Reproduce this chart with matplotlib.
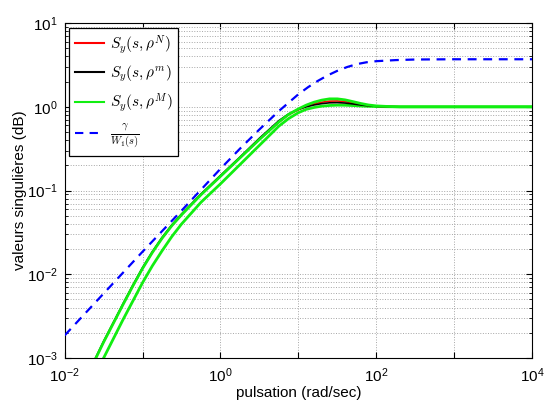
import matplotlib
matplotlib.use("Agg")
import matplotlib.pyplot as plt
import numpy as np

plt.rcParams['font.family'] = ['Liberation Sans', 'DejaVu Sans']
plt.rcParams['mathtext.fontset'] = 'cm'

# log10 of pulsation (rad/sec) at which values were read
logw = [-2.0, -1.75, -1.5, -1.25, -1.125, -1.0, -0.875, -0.75, -0.625, -0.5, -0.25,
        0.0, 0.25, 0.5, 0.75, 0.875, 1.0, 1.1, 1.2, 1.3, 1.4, 1.5, 1.6, 1.7, 1.8,
        1.9, 2.0, 2.15, 2.3, 3.0, 4.0]

# log10 of singular values
green_a = [-3.78, -3.29, -2.81, -2.36, -2.14, -1.93, -1.74, -1.57, -1.42, -1.29, -1.05,
           -0.83, -0.61, -0.39, -0.18, -0.09, -0.025, 0.02, 0.055, 0.08, 0.095, 0.095,
           0.083, 0.062, 0.04, 0.022, 0.011, 0.004, 0.0, 0.0, 0.0]
green_b = [-3.98, -3.49, -3.0, -2.54, -2.32, -2.10, -1.90, -1.72, -1.55, -1.40, -1.14,
           -0.92, -0.69, -0.46, -0.23, -0.14, -0.07, -0.03, -0.008, 0.008, 0.016, 0.02,
           0.019, 0.015, 0.01, 0.006, 0.003, 0.001, 0.0, 0.0, 0.0]
red = [-3.78, -3.29, -2.81, -2.36, -2.14, -1.93, -1.74, -1.57, -1.42, -1.29, -1.05,
       -0.83, -0.61, -0.39, -0.185, -0.095, -0.035, 0.005, 0.035, 0.055, 0.068, 0.07,
       0.062, 0.045, 0.028, 0.015, 0.007, 0.002, 0.0, 0.0, 0.0]
black = [-3.77, -3.28, -2.80, -2.35, -2.13, -1.92, -1.73, -1.56, -1.41, -1.28, -1.04,
         -0.82, -0.60, -0.375, -0.165, -0.085, -0.03, 0.0, 0.022, 0.038, 0.048, 0.05,
         0.045, 0.034, 0.022, 0.012, 0.006, 0.002, 0.0, 0.0, 0.0]

logw_d = [-2.0, -1.5, -1.0, -0.5, 0.0, 0.25, 0.5, 0.75, 1.0, 1.125, 1.25, 1.375, 1.5,
          1.625, 1.75, 1.875, 2.0, 2.25, 2.5, 3.0, 4.0]
dashed = [-2.73, -2.23, -1.73, -1.24, -0.74, -0.50, -0.27, -0.05, 0.15, 0.235, 0.31,
          0.375, 0.43, 0.475, 0.51, 0.532, 0.545, 0.558, 0.565, 0.568, 0.568]

w = 10.0 ** np.array(logw)
wd = 10.0 ** np.array(logw_d)

fig = plt.figure(figsize=(5.48, 4.05), dpi=100)
ax = fig.add_axes([0.118, 0.116, 0.853, 0.827])

green = '#11ee11'
ax.plot(w, 10.0 ** np.array(green_b), color=green, lw=2.0, zorder=2)
ax.plot(w, 10.0 ** np.array(red), color='red', lw=1.2, label=r'$S_y(s,\rho^N)$', zorder=3)
ax.plot(w, 10.0 ** np.array(black), color='black', lw=1.2, label=r'$S_y(s,\rho^m)$', zorder=3)
ax.plot(w, 10.0 ** np.array(green_a), color=green, lw=2.0, label=r'$S_y(s,\rho^M)$', zorder=4)
ax.plot(wd, 10.0 ** np.array(dashed), color='blue', lw=1.6, ls=(0, (4, 3)),
        label=r'$\frac{\gamma}{W_1(s)}$', zorder=5)

ax.set_xscale('log')
ax.set_yscale('log')
ax.set_xlim(1e-2, 1e4)
ax.set_ylim(1e-3, 1e1)

ax.set_xticks([10.0 ** k for k in range(-2, 5)])
ax.set_xticklabels([r'$\mathdefault{10^{%d}}$' % k if k % 2 == 0 else '' for k in range(-2, 5)])
ax.set_yticks([10.0 ** k for k in range(-3, 2)])
ax.set_yticklabels([r'$\mathdefault{10^{%d}}$' % k for k in range(-3, 2)])
ax.xaxis.set_minor_locator(matplotlib.ticker.NullLocator())
ax.yaxis.set_minor_locator(matplotlib.ticker.LogLocator(base=10, subs=np.arange(2, 10), numticks=20))
ax.yaxis.set_minor_formatter(matplotlib.ticker.NullFormatter())

ax.tick_params(which='both', direction='in', top=True, right=True, labelsize=11)
ax.tick_params(which='major', length=4)
ax.tick_params(which='minor', length=2)
ax.tick_params(axis='x', pad=6)
ax.tick_params(axis='y', pad=5)

ax.grid(True, which='major', ls=':', color='0.65', lw=0.7)
ax.grid(True, which='minor', axis='y', ls=':', color='0.65', lw=0.7)

ax.set_xlabel('pulsation (rad/sec)', fontsize=11)
ax.set_ylabel('valeurs singulières (dB)', fontsize=11)
ax.xaxis.set_label_coords(0.5, -0.085)
ax.yaxis.set_label_coords(-0.08, 0.5)

leg = ax.legend(loc='upper left', fontsize=11, handlelength=1.9, labelspacing=0.5,
                fancybox=False, framealpha=1, edgecolor='black',
                borderaxespad=0.3, borderpad=0.35, handletextpad=0.4)
leg.get_frame().set_linewidth(0.9)
for line in leg.get_lines():
    line.set_linewidth(1.5)

fig.savefig('out.png', dpi=100)
